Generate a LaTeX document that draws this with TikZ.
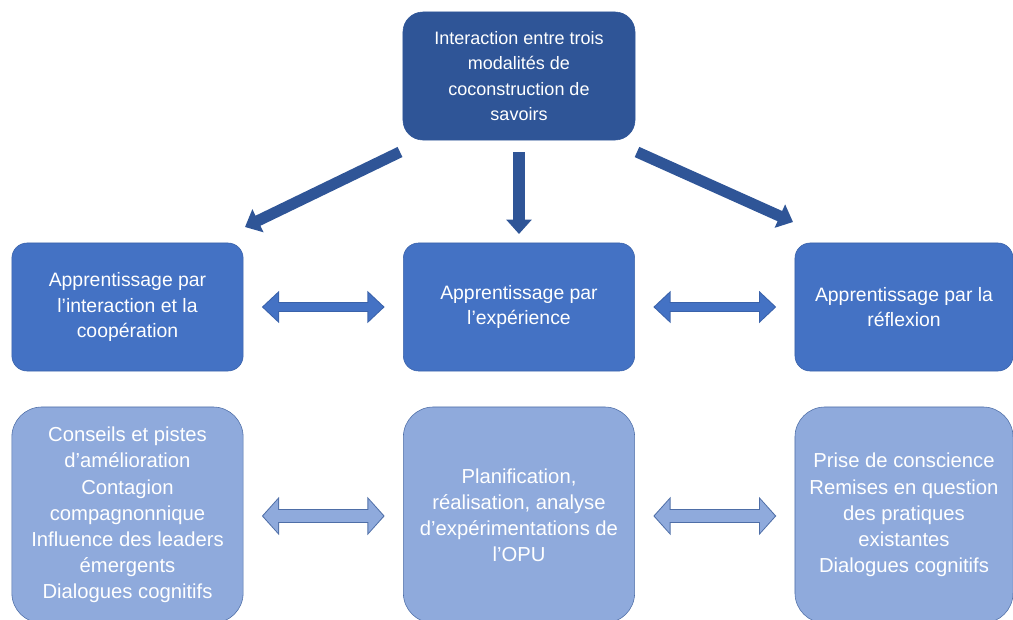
\documentclass[tikz,border=0pt]{standalone}
\usepackage{fontspec}
\setmainfont{Liberation Sans}
\usetikzlibrary{arrows.meta}
\definecolor{bleufonce}{HTML}{2F5597}
\definecolor{bleu}{HTML}{4472C4}
\definecolor{bleuclair}{HTML}{8FAADC}
\definecolor{bord}{HTML}{3A62AA}
\begin{document}
\begin{tikzpicture}[x=0.025cm,y=-0.025cm,line cap=butt,line join=miter,
	boite/.style={rectangle,align=center,text=white,inner sep=0pt},
	haut/.style={boite,fill=bleufonce,draw=bleufonce,rounded corners=0.5cm,
		minimum width=5.8cm,minimum height=3.2cm,font=\fontsize{12.8}{18}\selectfont},
	milieu/.style={boite,fill=bleu,draw=bord,rounded corners=0.38cm,
		minimum width=5.78cm,minimum height=3.2cm,font=\fontsize{13.8}{18.2}\selectfont},
	bas/.style={boite,fill=bleuclair,draw=bleufonce!85,rounded corners=0.75cm,
		minimum width=5.78cm,minimum height=5.4cm,font=\fontsize{14.4}{18.6}\selectfont},
	fleche/.style={draw=bleufonce,line width=0.28cm,-{Triangle[length=0.36cm,width=0.62cm]}},
	dmilieu/.style={preaction={draw=bord,line width=0.27cm,shorten <=0.46cm,shorten >=0.46cm,
			{Triangle[length=0.43cm,width=0.78cm]}-{Triangle[length=0.43cm,width=0.78cm]}},
		draw=bleu,line width=0.22cm,shorten <=0.497cm,shorten >=0.497cm,
		{Triangle[length=0.368cm,width=0.667cm]}-{Triangle[length=0.368cm,width=0.667cm]}},
	dbas/.style={preaction={draw=bleufonce!85,line width=0.33cm,shorten <=0.46cm,shorten >=0.46cm,
			{Triangle[length=0.43cm,width=0.93cm]}-{Triangle[length=0.43cm,width=0.93cm]}},
		draw=bleuclair,line width=0.28cm,shorten <=0.495cm,shorten >=0.495cm,
		{Triangle[length=0.37cm,width=0.81cm]}-{Triangle[length=0.37cm,width=0.81cm]}}]
	\useasboundingbox (0,0) rectangle (1013,619);
	\clip (0,0) rectangle (1013,619);
	% boites
	\node[haut] (top) at (519,76) {Interaction entre trois\\modalités de\\coconstruction de\\savoirs};
	\node[milieu] (m1) at (127.5,307) {Apprentissage par\\l'interaction et la\\coopération};
	\node[milieu] (m2) at (519,307) {Apprentissage par\\l'expérience};
	\node[milieu,minimum width=5.45cm] (m3) at (904,307) {Apprentissage par la\\réflexion};
	\node[bas] (b1) at (127.5,515) {Conseils et pistes\\d'amélioration\\Contagion\\compagnonnique\\Influence des leaders\\émergents\\Dialogues cognitifs};
	\node[bas] (b2) at (519,515) {Planification,\\réalisation, analyse\\d'expérimentations de\\l'OPU};
	\node[bas,minimum width=5.45cm] (b3) at (904,515) {Prise de conscience\\Remises en question\\des pratiques\\existantes\\Dialogues cognitifs};
	% fleches du haut
	\coordinate (d1) at (400,152);
	\coordinate (d2) at (519,152);
	\coordinate (d3) at (637,152);
	\coordinate (f1) at (245,227);
	\coordinate (f2) at (519,234);
	\coordinate (f3) at (793,222);
	\foreach \i in {1,2,3}{
		\draw[fleche] (d\i)--(f\i);}
	% doubles fleches
	\draw[dmilieu] (m1)--(m2);
	\draw[dmilieu] (m2)--(m3);
	\draw[dbas] (b1.east|-0,516)--(b2.west|-0,516);
	\draw[dbas] (b2.east|-0,516)--(b3.west|-0,516);
\end{tikzpicture}
\end{document}
